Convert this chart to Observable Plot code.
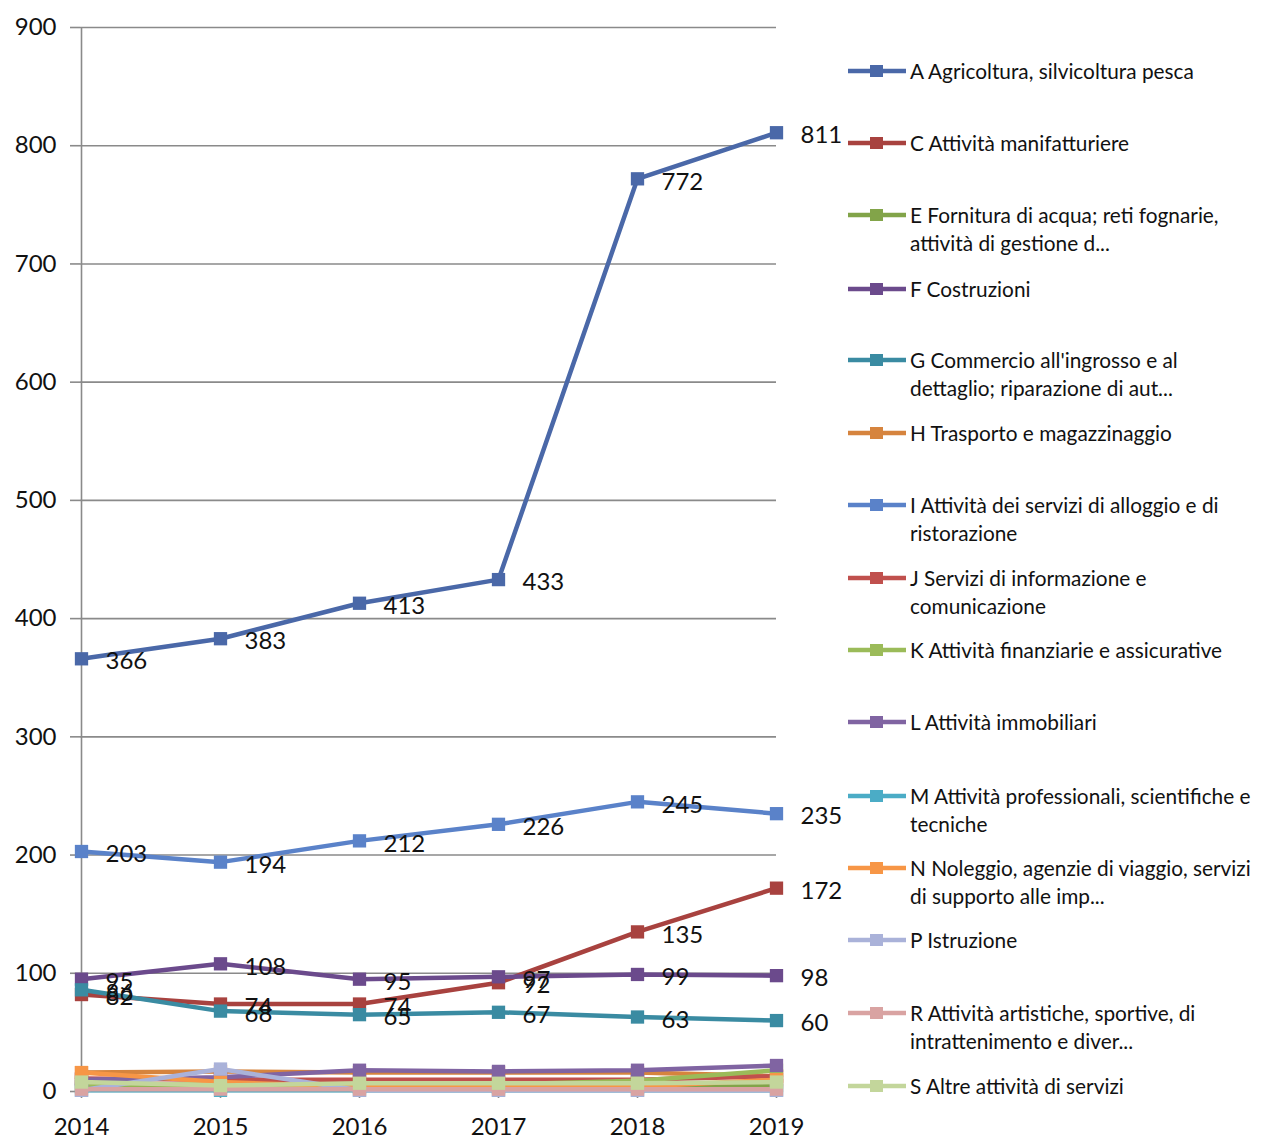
<!DOCTYPE html>
<html>
<head>
<meta charset="utf-8">
<script src="https://cdn.jsdelivr.net/npm/d3@7"></script>
<script src="https://cdn.jsdelivr.net/npm/@observablehq/plot@0.6"></script>
<style>
  html, body { margin: 0; padding: 0; background: #fff; }
  #wrap { position: relative; width: 1261px; height: 1139px; font-family: Lato, "Open Sans", sans-serif; }
  #chart { position: absolute; left: 0; top: 0; }
  #legend { position: absolute; left: 0; top: 0; width: 1261px; height: 1139px; pointer-events: none; }
  .item { position: absolute; left: 848px; display: flex; align-items: flex-start; font-size: 20.8px; line-height: 28px; color: #111; white-space: nowrap; }
  .item svg { flex: none; margin-top: 7px; }
  .item span { margin-left: 4px; }
</style>
</head>
<body>
<div id="wrap"><div id="chart"></div><div id="legend"></div></div>
<script>
const years = [2014, 2015, 2016, 2017, 2018, 2019];
const seriesNames = [
  "A Agricoltura, silvicoltura pesca",
  "C Attività manifatturiere",
  "E Fornitura di acqua; reti fognarie,\nattività di gestione d...",
  "F Costruzioni",
  "G Commercio all'ingrosso e al\ndettaglio; riparazione di aut...",
  "H Trasporto e magazzinaggio",
  "I Attività dei servizi di alloggio e di\nristorazione",
  "J Servizi di informazione e\ncomunicazione",
  "K Attività finanziarie e assicurative",
  "L Attività immobiliari",
  "M Attività professionali, scientifiche e\ntecniche",
  "N Noleggio, agenzie di viaggio, servizi\ndi supporto alle imp...",
  "P Istruzione",
  "R Attività artistiche, sportive, di\nintrattenimento e diver...",
  "S Altre attività di servizi"
];
const seriesColors = ["#4a68a8", "#a8423f", "#82a449", "#6b4a8c", "#3a8ba2", "#d6843e", "#5a82c9", "#c0504d", "#9bbb59", "#8064a2", "#4bacc6", "#f79646", "#aab2d9", "#d9a3a2", "#c3d69b"];
const valA = [366, 383, 413, 433, 772, 811];
const valC = [82, 74, 74, 92, 135, 172];
const valE = [4, 4, 4, 4, 4, 5];
const valF = [95, 108, 95, 97, 99, 98];
const valG = [86, 68, 65, 67, 63, 60];
const valH = [16, 17, 16, 16, 16, 13];
const valI = [203, 194, 212, 226, 245, 235];
const valJ = [11, 10, 10, 10, 10, 13];
const valK = [6, 6, 6, 6, 9, 18];
const valL = [10, 12, 18, 17, 18, 22];
const valM = [1, 1, 1, 1, 1, 1];
const valN = [16, 8, 4, 4, 4, 10];
const valP = [1, 19, 1, 1, 1, 1];
const valR = [2, 2, 2, 2, 2, 2];
const valS = [8, 5, 7, 7, 7, 8];
const allValues = [valA, valC, valE, valF, valG, valH, valI, valJ, valK, valL, valM, valN, valP, valR, valS];
const labeledSeries = [0, 1, 3, 4, 6]; // A, C, F, G, I show data labels
const yTicks = [0, 100, 200, 300, 400, 500, 600, 700, 800, 900];

const rows = [];
allValues.forEach((vals, si) => vals.forEach((v, i) => rows.push({series: seriesNames[si], idx: si, year: years[i], value: v})));

const seriesMarks = allValues.flatMap((vals, si) => {
  const d = rows.filter(r => r.idx === si);
  return [
    Plot.line(d, {x: "year", y: "value", stroke: seriesColors[si], strokeWidth: 4.5, strokeLinejoin: "round"}),
    Plot.dot(d, {x: "year", y: "value", symbol: "square", r: 7.5, fill: seriesColors[si], stroke: "none"})
  ];
});

const labelRows = rows.filter(r => labeledSeries.includes(r.idx));

const chart = Plot.plot({
  width: 848,
  height: 1139,
  marginLeft: 80,
  marginRight: 72,
  marginTop: 27,
  marginBottom: 48,
  style: {fontFamily: "Lato, 'Open Sans', sans-serif", fontSize: "24px", color: "#111", background: "#fff", overflow: "visible"},
  x: {type: "point", domain: years, padding: 0, label: null},
  y: {domain: [0, 900], label: null},
  marks: [
    Plot.gridY(yTicks, {stroke: "#8a8a8a", strokeOpacity: 1, strokeWidth: 1.6}),
    Plot.axisY(yTicks, {tickSize: 10, tickPadding: 14, stroke: "#8a8a8a", strokeWidth: 1.6, fontSize: 24, label: null, tickFormat: d => String(d)}),
    Plot.axisX(years, {tickSize: 7, tickPadding: 19, stroke: "#8a8a8a", strokeWidth: 1.6, fontSize: 24, label: null, tickFormat: d => String(d)}),
    Plot.ruleX([2014], {stroke: "#8a8a8a", strokeWidth: 1.6}),
    ...seriesMarks,
    Plot.text(labelRows, {x: "year", y: "value", text: d => String(d.value), dx: 24, dy: 3, textAnchor: "start", fontSize: 24, fill: "#111"})
  ]
});
document.getElementById("chart").appendChild(chart);

// Legend (right side)
const legendTops = [71, 143, 215, 289, 360, 433, 505, 578, 650, 722, 796, 868, 940, 1013, 1086];
const legend = document.getElementById("legend");
seriesNames.forEach((name, i) => {
  const item = document.createElement("div");
  item.className = "item";
  item.style.top = (legendTops[i] - 14) + "px";
  const c = seriesColors[i];
  item.innerHTML = `<svg width="58" height="14"><line x1="0" y1="7" x2="58" y2="7" stroke="${c}" stroke-width="4.5"/><rect x="22" y="1" width="13" height="12" fill="${c}"/></svg>`;
  const span = document.createElement("span");
  name.split("\n").forEach((line, j) => {
    if (j > 0) span.appendChild(document.createElement("br"));
    span.appendChild(document.createTextNode(line));
  });
  item.appendChild(span);
  legend.appendChild(item);
});
</script>
</body>
</html>
